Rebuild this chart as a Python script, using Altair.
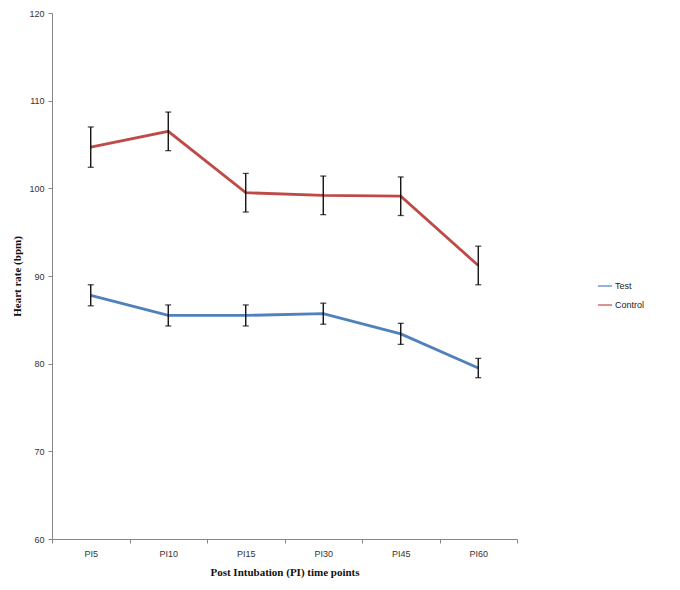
import altair as alt
import pandas as pd

timepoints = ["PI5", "PI10", "PI15", "PI30", "PI45", "PI60"]
test_mean = [87.8, 85.5, 85.5, 85.7, 83.4, 79.5]
test_err = [1.2, 1.2, 1.2, 1.2, 1.2, 1.1]
control_mean = [104.7, 106.5, 99.5, 99.2, 99.1, 91.2]
control_err = [2.3, 2.2, 2.2, 2.2, 2.2, 2.2]

rows = []
for i, t in enumerate(timepoints):
    rows.append({"tp": t, "group": "Test", "mean": test_mean[i],
                 "lo": test_mean[i] - test_err[i], "hi": test_mean[i] + test_err[i]})
for i, t in enumerate(timepoints):
    rows.append({"tp": t, "group": "Control", "mean": control_mean[i],
                 "lo": control_mean[i] - control_err[i], "hi": control_mean[i] + control_err[i]})
df = pd.DataFrame(rows)

x = alt.X("tp:N", sort=timepoints,
          scale=alt.Scale(paddingInner=0, paddingOuter=0),
          axis=alt.Axis(title="Post Intubation (PI) time points", labelAngle=0,
                        tickBand="extent", domainColor="#868686", tickColor="#868686",
                        tickSize=4, labelFont="Liberation Sans", labelFontSize=9,
                        labelColor="#333333", labelPadding=6,
                        titleFont="Liberation Serif", titleFontSize=11, titleFontWeight="bold",
                        titleColor="#111111", titlePadding=8))
yscale = alt.Scale(domain=[60, 120], nice=False, zero=False)
yaxis = alt.Axis(title="Heart rate (bpm)", values=[60, 70, 80, 90, 100, 110, 120],
                 grid=False, domainColor="#868686", tickColor="#868686", tickSize=4,
                 labelFont="Liberation Sans", labelFontSize=9, labelColor="#333333",
                 labelPadding=4, titleFont="Liberation Serif", titleFontSize=11,
                 titleFontWeight="bold", titleColor="#111111", titlePadding=6)

color = alt.Color("group:N", scale=alt.Scale(domain=["Test", "Control"],
                                             range=["#4F81BD", "#BE4B48"]),
                  legend=alt.Legend(title=None, orient="none", legendX=545, legendY=265,
                                    symbolType="stroke", symbolStrokeWidth=1.2, symbolSize=200,
                                    labelFont="Liberation Sans", labelFontSize=9,
                                    labelColor="#222222", rowPadding=6, labelOffset=2))

base = alt.Chart(df)
lines = base.mark_line(strokeWidth=2.8).encode(
    x=x, y=alt.Y("mean:Q", scale=yscale, axis=yaxis), color=color, detail="group:N")
rules = base.mark_rule(color="black", strokeWidth=1.3).encode(
    x=alt.X("tp:N", sort=timepoints), y=alt.Y("lo:Q"), y2="hi:Q")
caps_lo = base.mark_tick(color="black", thickness=1.3, size=6, orient="horizontal").encode(
    x=alt.X("tp:N", sort=timepoints), y=alt.Y("lo:Q"))
caps_hi = base.mark_tick(color="black", thickness=1.3, size=6, orient="horizontal").encode(
    x=alt.X("tp:N", sort=timepoints), y=alt.Y("hi:Q"))

chart = alt.layer(lines, rules, caps_lo, caps_hi).properties(
    width=465, height=526,
    background="white",
    autosize=alt.AutoSizeParams(type="none"),
    padding={"left": 44, "top": 5, "right": 155, "bottom": 51},
).configure_view(stroke=None)

chart.save("out.html", embed_options={"renderer": "svg", "actions": False})
